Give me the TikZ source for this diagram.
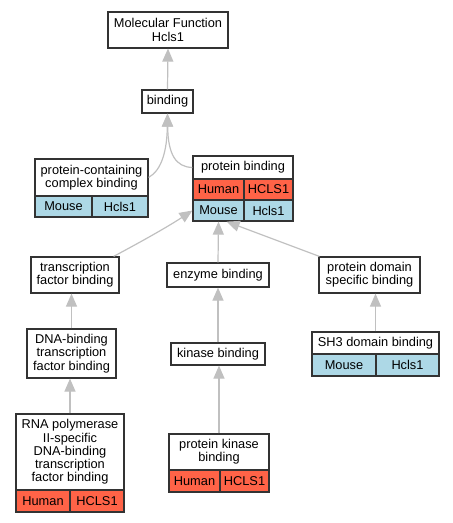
\documentclass[tikz,border=0pt]{standalone}
\usepackage{fontspec}
\setmainfont{Liberation Sans}
\usetikzlibrary{arrows.meta,calc}
\definecolor{boxc}{HTML}{333333}
\definecolor{edgec}{HTML}{C0C0C0}
\definecolor{human}{HTML}{FF6347}
\definecolor{mouse}{HTML}{ADD8E6}
\begin{document}
\begin{tikzpicture}[x=1bp,y=-1bp,
  box/.style={draw=boxc, line width=1.2bp, fill=white, inner sep=0pt, align=center,
    font=\fontsize{12.8bp}{13.3bp}\selectfont},
  hum/.style={box, fill=human},
  mou/.style={box, fill=mouse},
  edge/.style={draw=edgec, line width=1.2bp, -{Triangle[length=13bp,width=11bp,fill=edgec]}}]
\useasboundingbox (0,0) rectangle (453,523);
% nodes
\node[box, minimum width=120bp, minimum height=36bp] (mf) at (168,30) {Molecular Function\\Hcls1};
\node[box, minimum width=51bp, minimum height=23bp] (bind) at (167.5,101.5) {binding};
% protein-containing complex binding
\node[box, minimum width=113bp, minimum height=37bp] (pccb) at (91.5,177.5) {protein-containing\\complex binding};
\node[mou, minimum width=57bp, minimum height=21bp] (pccbm) at (63.5,206.5) {Mouse};
\node[mou, minimum width=56bp, minimum height=21bp] (pccbg) at (120,206.5) {Hcls1};
% protein binding
\node[box, minimum width=100bp, minimum height=23bp] (pb) at (243,167.5) {protein binding};
\node[hum, minimum width=51bp, minimum height=21bp] (pbh) at (218.5,189.5) {Human};
\node[hum, minimum width=49bp, minimum height=21bp] (pbhg) at (268.5,189.5) {HCLS1};
\node[mou, minimum width=51bp, minimum height=21bp] (pbm) at (218.5,210.5) {Mouse};
\node[mou, minimum width=49bp, minimum height=21bp] (pbmg) at (268.5,210.5) {Hcls1};
% middle row
\node[box, minimum width=88bp, minimum height=36bp] (tfb) at (75,275) {transcription\\factor binding};
\node[box, minimum width=102bp, minimum height=24bp] (enz) at (218,275) {enzyme binding};
\node[box, minimum width=101bp, minimum height=36bp] (pdsb) at (369.5,275) {protein domain\\specific binding};
% next row
\node[box, minimum width=89bp, minimum height=49bp] (dna) at (71.5,353.5) {DNA-binding\\transcription\\factor binding};
\node[box, minimum width=94bp, minimum height=22bp] (kin) at (218,354) {kinase binding};
\node[box, minimum width=127bp, minimum height=22bp] (sh3) at (375.5,343) {SH3 domain binding};
\node[mou, minimum width=64bp, minimum height=22bp] (sh3m) at (344,365) {Mouse};
\node[mou, minimum width=63bp, minimum height=22bp] (sh3g) at (407.5,365) {Hcls1};
% bottom row
\node[box, minimum width=108bp, minimum height=76bp] (rna) at (70,452) {RNA polymerase\\II-specific\\DNA-binding\\transcription\\factor binding};
\node[hum, minimum width=54bp, minimum height=22bp] (rnah) at (43,501) {Human};
\node[hum, minimum width=54bp, minimum height=22bp] (rnag) at (97,501) {HCLS1};
\node[box, minimum width=100bp, minimum height=36bp] (pkb) at (219,452) {protein kinase\\binding};
\node[hum, minimum width=51bp, minimum height=22bp] (pkbh) at (194.5,481) {Human};
\node[hum, minimum width=49bp, minimum height=22bp] (pkbg) at (244.5,481) {HCLS1};
% edges
\draw[edge] (bind.north) -- (mf.south);
\draw[edge] (pccb.east) .. controls (162,170) and (167,150) .. (bind.south);
\draw[edge] (pb.west) .. controls (176,167) and (168,155) .. (bind.south);
\draw[edge] ($(tfb.north east)+(-6,0)$) .. controls (150,237) and (172,224) .. (pbm.west);
\draw[edge] (enz.north) -- (pbm.south);
\draw[edge] ($(pdsb.north west)+(1,0)$) -- ($(pbm.south east)+(-18,0)$);
\draw[edge] (dna.north) -- (dna.north |- tfb.south);
\draw[edge] (kin.north) -- (enz.south);
\draw[edge] (sh3.north) -- (sh3.north |- pdsb.south);
\draw[edge] (rna.north) -- (rna.north |- dna.south);
\draw[edge] (pkb.north) -- (pkb.north |- kin.south);
\end{tikzpicture}
\end{document}
